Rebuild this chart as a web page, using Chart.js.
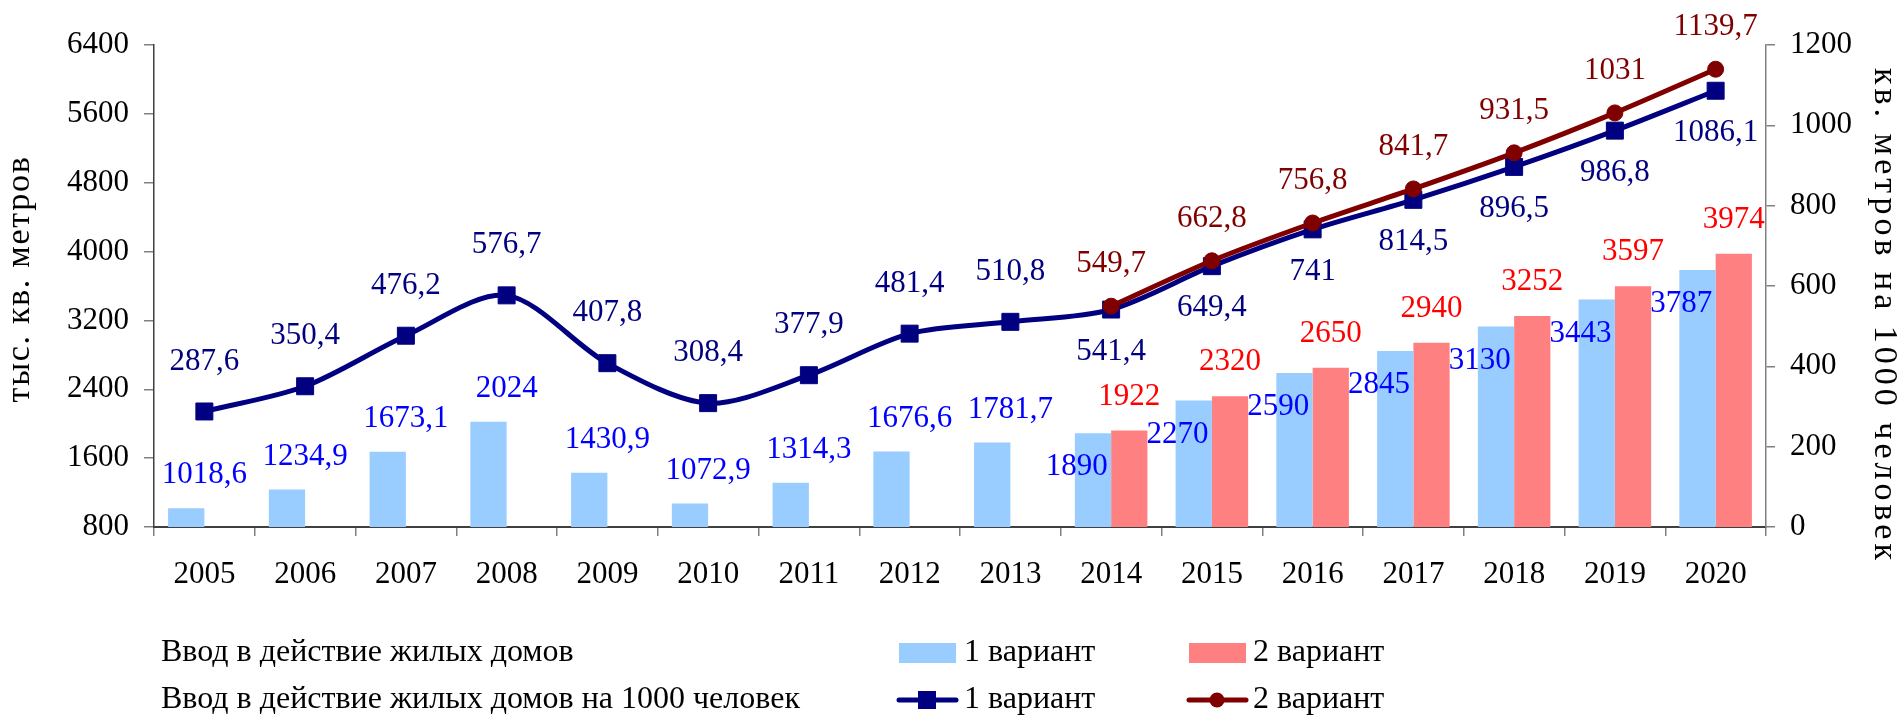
<!DOCTYPE html>
<html>
<head>
<meta charset="utf-8">
<script src="https://cdn.jsdelivr.net/npm/chart.js@4.4.1/dist/chart.umd.min.js"></script>
<style>
  html, body { margin: 0; padding: 0; background: #fff; }
</style>
</head>
<body>
<canvas id="housingChart" width="1901" height="718"></canvas>
<script>
const years = ["2005", "2006", "2007", "2008", "2009", "2010", "2011", "2012",
  "2013", "2014", "2015", "2016", "2017", "2018", "2019", "2020"];

// тыс. кв. метров
const housingV1 = [1018.6, 1234.9, 1673.1, 2024, 1430.9, 1072.9, 1314.3, 1676.6,
  1781.7, 1890, 2270, 2590, 2845, 3130, 3443, 3787];
const housingV2 = [null, null, null, null, null, null, null, null,
  null, 1922, 2320, 2650, 2940, 3252, 3597, 3974];

// кв. метров на 1000 человек
const perThousandV1 = [287.6, 350.4, 476.2, 576.7, 407.8, 308.4, 377.9, 481.4,
  510.8, 541.4, 649.4, 741, 814.5, 896.5, 986.8, 1086.1];
const perThousandV2 = [null, null, null, null, null, null, null, null,
  null, 549.7, 662.8, 756.8, 841.7, 931.5, 1031, 1139.7];

const leftTicks = [800, 1600, 2400, 3200, 4000, 4800, 5600, 6400];
const rightTicks = [0, 200, 400, 600, 800, 1000, 1200];

const leftTitle = "тыс. кв. метров";
const rightTitle = "кв. метров на 1000 человек";

const FONT = "'Liberation Serif', 'Times New Roman', serif";
const FONT_SIZE = 31;

const fmt = v => String(v).replace(".", ",");

// value labels, placed the way the original report laid them out
const valueLabels = {
  id: "valueLabels",
  afterDatasetsDraw(chart) {
    const ctx = chart.ctx;
    ctx.save();
    ctx.font = FONT_SIZE + "px " + FONT;
    ctx.textAlign = "center";
    ctx.textBaseline = "middle";
    chart.data.datasets.forEach((ds, i) => {
      const meta = chart.getDatasetMeta(i);
      meta.data.forEach((el, j) => {
        const v = ds.data[j];
        if (v == null) return;
        const paired = housingV2[j] != null;
        let x = el.x, y = el.y;
        switch (ds.labelMode) {
          case "bar1":
            if (paired) { x = el.x - el.width / 2 + 2; y = el.y + 34; }
            else { x = el.x + el.width / 2; y = el.y - 33; }
            break;
          case "bar2":
            y = el.y - 34;
            break;
          case "line1":
            y = paired ? el.y + 42 : el.y - 50;
            break;
          case "line2":
            y = el.y - 42;
            break;
        }
        ctx.fillStyle = ds.labelColor;
        ctx.fillText(fmt(v), x, y);
      });
    });
    ctx.restore();
  }
};

// rotated axis titles, drawn with a bit of tracking
function drawTitle(ctx, text, x, y, angle, spacing) {
  ctx.save();
  ctx.font = "34px " + FONT;
  ctx.letterSpacing = spacing;
  ctx.fillStyle = "#000";
  ctx.textAlign = "center";
  ctx.textBaseline = "middle";
  ctx.translate(x, y);
  ctx.rotate(angle);
  ctx.fillText(text, 0, 0);
  ctx.restore();
}

const axisTitles = {
  id: "axisTitles",
  afterDraw(chart) {
    const { top, bottom } = chart.chartArea;
    const mid = (top + bottom) / 2;
    drawTitle(chart.ctx, leftTitle, 20, mid - 7, -Math.PI / 2, "1.7px");
    drawTitle(chart.ctx, rightTitle, 1884, mid + 30, Math.PI / 2, "4px");
  }
};

// two-row legend under the axis
const bottomLegend = {
  id: "bottomLegend",
  afterDraw(chart) {
    const ctx = chart.ctx;
    const ds = chart.data.datasets;
    const bar1 = ds.find(d => d.labelMode === "bar1");
    const bar2 = ds.find(d => d.labelMode === "bar2");
    const line1 = ds.find(d => d.labelMode === "line1");
    const line2 = ds.find(d => d.labelMode === "line2");
    const row1 = 653, row2 = 700;
    ctx.save();
    ctx.font = "32px " + FONT;
    ctx.textBaseline = "middle";
    ctx.textAlign = "left";
    ctx.fillStyle = "#000";
    ctx.fillText("Ввод в действие жилых домов", 161, row1);
    ctx.fillText("Ввод в действие жилых домов на 1000 человек", 161, row2);
    ctx.fillText("1 вариант", 964, row1);
    ctx.fillText("2 вариант", 1253, row1);
    ctx.fillText("1 вариант", 964, row2);
    ctx.fillText("2 вариант", 1253, row2);

    ctx.fillStyle = bar1.backgroundColor;
    ctx.fillRect(899, row1 - 10, 57, 20);
    ctx.fillStyle = bar2.backgroundColor;
    ctx.fillRect(1189, row1 - 10, 57, 20);

    ctx.lineWidth = 5;
    ctx.lineCap = "round";
    ctx.strokeStyle = line1.borderColor;
    ctx.beginPath(); ctx.moveTo(899, row2); ctx.lineTo(956, row2); ctx.stroke();
    ctx.fillStyle = line1.pointBackgroundColor;
    ctx.fillRect(927 - 9, row2 - 9, 18, 18);

    ctx.strokeStyle = line2.borderColor;
    ctx.beginPath(); ctx.moveTo(1189, row2); ctx.lineTo(1246, row2); ctx.stroke();
    ctx.fillStyle = line2.pointBackgroundColor;
    ctx.beginPath(); ctx.arc(1217, row2, 7.5, 0, Math.PI * 2); ctx.fill();
    ctx.restore();
  }
};

const tickFont = { family: FONT, size: FONT_SIZE };

new Chart(document.getElementById("housingChart"), {
  data: {
    labels: years,
    datasets: [
      {
        type: "line",
        label: "2 вариант (на 1000 человек)",
        data: perThousandV2,
        yAxisID: "y1",
        borderColor: "#800000",
        borderWidth: 5,
        tension: 0.3,
        pointStyle: "circle",
        pointRadius: 8,
        pointBorderWidth: 1,
        pointBackgroundColor: "#800000",
        pointBorderColor: "#800000",
        labelMode: "line2",
        labelColor: "#800000",
        order: 0
      },
      {
        type: "line",
        label: "1 вариант (на 1000 человек)",
        data: perThousandV1,
        yAxisID: "y1",
        borderColor: "#000080",
        borderWidth: 5,
        tension: 0.3,
        pointStyle: "rect",
        pointRadius: 12,
        pointBorderWidth: 1,
        pointBackgroundColor: "#000080",
        pointBorderColor: "#000080",
        labelMode: "line1",
        labelColor: "#000080",
        order: 1
      },
      {
        type: "bar",
        label: "1 вариант",
        data: housingV1,
        yAxisID: "y",
        backgroundColor: "#99CCFF",
        categoryPercentage: 0.72,
        barPercentage: 1,
        labelMode: "bar1",
        labelColor: "#0000FF",
        order: 2
      },
      {
        type: "bar",
        label: "2 вариант",
        data: housingV2,
        yAxisID: "y",
        backgroundColor: "#FF8080",
        categoryPercentage: 0.72,
        barPercentage: 1,
        labelMode: "bar2",
        labelColor: "#FF0000",
        order: 2
      }
    ]
  },
  options: {
    responsive: false,
    animation: false,
    events: [],
    layout: { padding: { top: 45, left: 0, right: 0, bottom: 0 } },
    plugins: {
      legend: { display: false },
      tooltip: { enabled: false }
    },
    scales: {
      x: {
        offset: true,
        grid: {
          display: true,
          offset: true,
          drawOnChartArea: false,
          tickLength: 9,
          color: "#808080",
          lineWidth: 1.5
        },
        border: { color: "#404040", width: 2 },
        ticks: { font: tickFont, color: "#000", padding: 20, maxRotation: 0 },
        afterFit: s => { s.height = 191; }
      },
      y: {
        position: "left",
        min: leftTicks[0],
        max: leftTicks[leftTicks.length - 1],
        grid: { drawOnChartArea: false, tickLength: 10, color: "#808080", lineWidth: 1.5 },
        border: { color: "#404040", width: 1.5 },
        ticks: {
          stepSize: leftTicks[1] - leftTicks[0],
          font: tickFont,
          color: "#000",
          padding: 15,
          callback: v => String(v)
        },
        afterFit: s => { s.width = 154; }
      },
      y1: {
        position: "right",
        min: rightTicks[0],
        max: rightTicks[rightTicks.length - 1],
        grid: { drawOnChartArea: false, tickLength: 9, color: "#808080", lineWidth: 1.5 },
        border: { color: "#808080", width: 1.5 },
        ticks: {
          stepSize: rightTicks[1] - rightTicks[0],
          font: tickFont,
          color: "#000",
          padding: 15,
          callback: v => String(v)
        },
        afterFit: s => { s.width = 135; }
      }
    }
  },
  plugins: [valueLabels, axisTitles, bottomLegend]
});
</script>
</body>
</html>
